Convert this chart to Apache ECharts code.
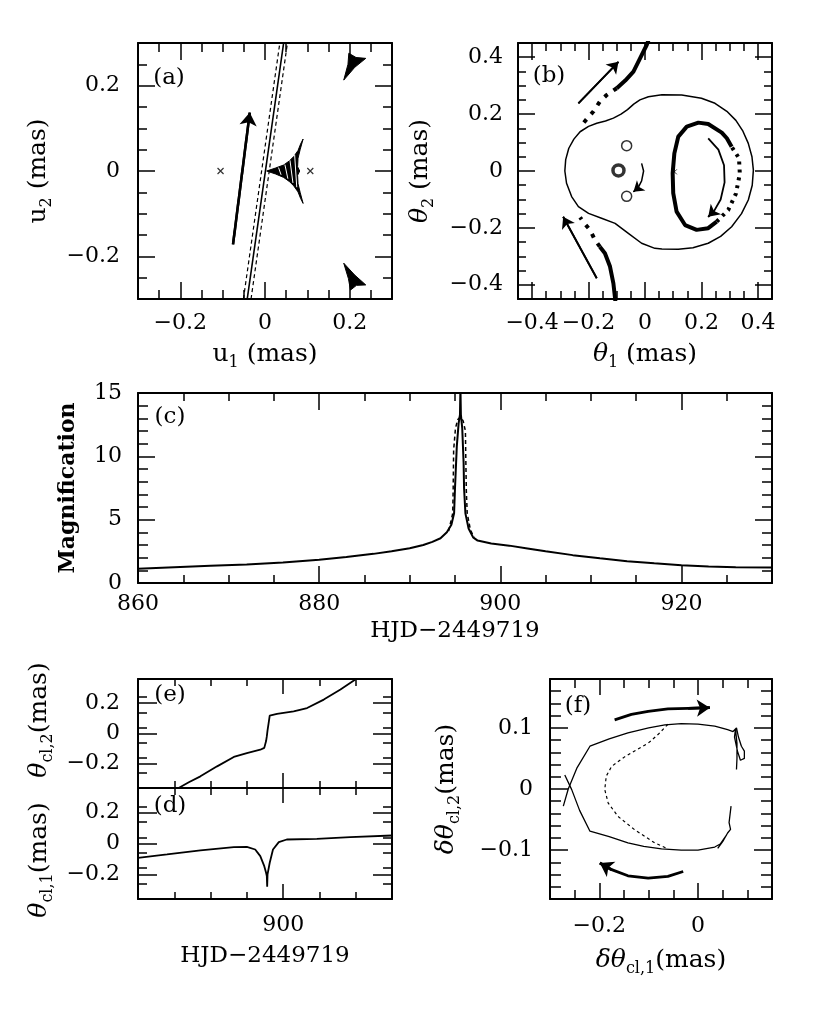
<!DOCTYPE html>
<html><head><meta charset="utf-8">
<script src="https://cdn.jsdelivr.net/npm/echarts@6/dist/echarts.min.js"></script>
<style>html,body{margin:0;padding:0;background:#fff}#c{width:830px;height:1013px}</style>
</head><body><div id="c"></div>
<script>
// ===================== DATA =====================
// ---- panel (a): source plane ----
const aMajorTicks = [-0.2, 0, 0.2];
const aLabels = [-0.2, 0, 0.2];
const aLenses = [[-0.105, 0], [0.107, 0]];
const aCausticCentral = [[0.004,0],[0.025,0.007],[0.044,0.014],[0.058,0.024],[0.068,0.034],[0.078,0.048],[0.084,0.063],[0.09,0.075],[0.083,0.05],[0.078,0.03],[0.077,0.01],[0.082,0],[0.077,-0.01],[0.078,-0.03],[0.083,-0.05],[0.09,-0.076],[0.084,-0.064],[0.078,-0.049],[0.068,-0.035],[0.058,-0.025],[0.044,-0.015],[0.025,-0.007],[0.004,0]];
const aCausticTop = [[0.198,0.276],[0.215,0.266],[0.238,0.264],[0.212,0.243],[0.186,0.213],[0.196,0.25],[0.198,0.276]];
const aCausticBottom = [[0.202,-0.279],[0.216,-0.268],[0.238,-0.267],[0.212,-0.244],[0.186,-0.216],[0.197,-0.252],[0.202,-0.279]];
const aHatch1 = [[0.032,0.008],[0.038,-0.009]];
const aHatch2 = [[0.047,0.015],[0.054,-0.018]];
const aHatch3 = [[0.059,0.025],[0.066,-0.028]];
const aHatch4 = [[0.07,0.038],[0.075,-0.038]];
const aTrack = [[-0.042,-0.3],[0.044,0.3]];
const aTrackEdgeL = [[-0.051,-0.3],[0.035,0.3]];
const aTrackEdgeR = [[-0.033,-0.3],[0.053,0.3]];
const aArrow = [[-0.0755,-0.172],[-0.036,0.137]];

// ---- panel (b): image plane ----
const bMajorTicks = [-0.4, -0.2, 0, 0.2, 0.4];
const bLabels = [-0.4, -0.2, 0, 0.2, 0.4];
const bCritical = [[-0.284,0.0],[-0.281,0.04],[-0.27,0.08],[-0.252,0.112],[-0.23,0.138],[-0.2,0.157],[-0.171,0.168],[-0.14,0.176],[-0.112,0.186],[-0.085,0.2],[-0.062,0.216],[-0.04,0.235],[-0.018,0.25],[0.012,0.261],[0.06,0.268],[0.13,0.267],[0.2,0.256],[0.248,0.238],[0.29,0.21],[0.322,0.178],[0.347,0.14],[0.366,0.097],[0.379,0.05],[0.384,0.003],[0.38,-0.05],[0.366,-0.102],[0.342,-0.15],[0.307,-0.196],[0.268,-0.23],[0.224,-0.254],[0.17,-0.27],[0.118,-0.275],[0.06,-0.274],[0.035,-0.272],[-0.012,-0.254],[-0.059,-0.219],[-0.106,-0.184],[-0.154,-0.166],[-0.2,-0.149],[-0.236,-0.125],[-0.26,-0.09],[-0.278,-0.043],[-0.284,0.0]];
const bLensCircles = [[-0.065,0.089],[-0.065,-0.089]];
const bCentralImage = [[-0.094,0.002]];
const bLensMark = [[0.104,-0.003]];
const bLoopSolid = [[0.307,0.085],[0.29,0.115],[0.272,0.135],[0.224,0.165],[0.189,0.17],[0.148,0.156],[0.118,0.121],[0.104,0.062],[0.098,-0.008],[0.1,-0.078],[0.112,-0.143],[0.142,-0.19],[0.183,-0.207],[0.224,-0.201],[0.254,-0.178]];
const bLoopDotted = [[0.254,-0.178],[0.295,-0.137],[0.322,-0.08],[0.336,-0.01],[0.333,0.045],[0.307,0.085]];
const bUpperSolid = [[0.016,0.47],[0.006,0.443],[-0.018,0.395],[-0.041,0.349],[-0.07,0.318],[-0.1,0.291]];
const bUpperDotted = [[-0.1,0.291],[-0.136,0.267],[-0.16,0.244],[-0.183,0.209],[-0.219,0.168]];
const bLowerSolid = [[-0.104,-0.47],[-0.106,-0.448],[-0.112,-0.395],[-0.124,-0.336],[-0.142,-0.289],[-0.16,-0.266]];
const bLowerDotted = [[-0.16,-0.266],[-0.177,-0.243],[-0.195,-0.207],[-0.213,-0.186],[-0.23,-0.163]];
const bArrowUpper = [[-0.236,0.238],[-0.094,0.384]];
const bArrowLower = [[-0.171,-0.377],[-0.29,-0.161]];
const bArrowCenter = [[-0.012,0.027],[-0.005,0.0],[-0.012,-0.035],[-0.025,-0.06],[-0.041,-0.073]];
const bArrowLoop = [[0.224,0.115],[0.26,0.075],[0.28,0.02],[0.282,-0.04],[0.268,-0.1],[0.245,-0.14],[0.224,-0.161]];

// ---- panel (c): light curve ----
const cXMajor = [880, 900, 920];
const cXLabels = [860, 880, 900, 920];
const cYMajor = [5, 10];
const cYLabels = [0, 5, 10, 15];
const cSolid = [[860,1.12],[864,1.25],[868,1.36],[872,1.47],[876,1.62],[880,1.84],[883,2.05],[886,2.3],[888,2.5],[890,2.75],[891.5,3.0],[892.5,3.25],[893.4,3.53],[894.1,4.0],[894.6,4.6],[894.9,5.5],[895.0,7.5],[895.2,10.8],[895.4,12.6],[895.55,13.3],[895.6,15.5],[895.65,13.3],[895.8,12.2],[895.95,9.5],[896.0,7.5],[896.15,5.5],[896.5,4.3],[897,3.6],[897.5,3.35],[899,3.12],[901,2.95],[903,2.73],[905,2.5],[908,2.2],[911,1.95],[914,1.72],[917,1.55],[920,1.4],[923,1.3],[926,1.25],[930,1.22]];
const cDashed = [[894.3,4.1],[894.75,5.5],[894.8,7.5],[894.85,10.5],[895.05,12.2],[895.3,12.9],[895.6,13.1],[895.9,12.8],[896.15,12.0],[896.2,9.5],[896.25,7.3],[896.35,5.5],[896.7,4.2],[897.1,3.6]];

// ---- panels (e) and (d): centroid shift components ----
const edXMajor = [900];
const edXLabels = [900];
const edYMajor = [-0.2, 0, 0.2];
const edYLabels = [-0.2, 0, 0.2];
const eTheta2 = [[869,-0.39],[871.2,-0.36],[874,-0.322],[877.2,-0.283],[881.8,-0.217],[886.4,-0.155],[890,-0.129],[893.7,-0.107],[894.8,-0.095],[895.1,-0.085],[895.3,-0.05],[895.5,-0.019],[895.7,0.02],[896,0.069],[896.3,0.118],[898.3,0.129],[902.9,0.146],[906.6,0.168],[911.2,0.224],[915.8,0.29],[919.9,0.356],[921,0.375]];
const dTheta1 = [[860,-0.093],[868,-0.071],[877.2,-0.045],[886.4,-0.024],[890,-0.022],[892.3,-0.039],[893.7,-0.082],[894.8,-0.147],[895.3,-0.19],[895.5,-0.212],[895.6,-0.28],[895.7,-0.2],[896.3,-0.125],[897.2,-0.039],[898.8,0.009],[901,0.026],[909.3,0.03],[918.5,0.041],[930,0.052]];

// ---- panel (f): centroid trajectory ----
const fXMajor = [-0.2, 0];
const fXLabels = [-0.2, 0];
const fYMajor = [-0.1, 0, 0.1];
const fYLabels = [-0.1, 0, 0.1];
const fUpperBranch = [[-0.273,-0.028],[-0.263,0.0],[-0.245,0.035],[-0.219,0.07],[-0.18,0.082],[-0.142,0.092],[-0.1,0.1],[-0.067,0.105],[-0.034,0.107],[0.0,0.106],[0.034,0.103],[0.06,0.097],[0.071,0.094],[0.078,0.1],[0.082,0.085],[0.088,0.07],[0.094,0.062],[0.094,0.05],[0.086,0.047],[0.08,0.062],[0.074,0.085],[0.076,0.098],[0.079,0.075],[0.079,0.05],[0.078,0.032]];
const fLowerBranch = [[0.067,-0.028],[0.063,-0.055],[0.066,-0.066],[0.06,-0.072],[0.05,-0.086],[0.04,-0.097],[0.046,-0.09],[0.058,-0.075],[0.045,-0.09],[0.034,-0.095],[0.0,-0.1],[-0.034,-0.1],[-0.074,-0.098],[-0.11,-0.094],[-0.142,-0.088],[-0.18,-0.078],[-0.219,-0.069],[-0.24,-0.035],[-0.256,-0.001],[-0.27,0.023]];
const fDashed = [[-0.061,0.106],[-0.08,0.09],[-0.101,0.075],[-0.125,0.064],[-0.148,0.053],[-0.175,0.037],[-0.186,0.021],[-0.189,-0.001],[-0.182,-0.023],[-0.162,-0.045],[-0.128,-0.067],[-0.088,-0.088],[-0.061,-0.098]];
const fArrowTop = [[-0.169,0.113],[-0.135,0.122],[-0.101,0.127],[-0.061,0.131],[-0.02,0.132],[0.024,0.133]];
const fArrowBottom = [[-0.03,-0.135],[-0.061,-0.143],[-0.101,-0.146],[-0.142,-0.142],[-0.175,-0.132],[-0.199,-0.121]];

// ===================== BUILD =====================
const FONT = 'DejaVu Serif';
const BLACK = '#000';
const TICK_FS = 22;
const NAME_FS = 25;
function fmt(v){ let s = String(Math.round(v*1000)/1000); if (s === '-0') s = '0'; return s.replace('-', '\u2212'); }
function ticks(min, max, step){ const out=[]; const n=Math.round((max-min)/step); for(let i=1;i<n;i++){ out.push(Math.round((min+i*step)*1e6)/1e6); } return out; }
function nameStyle(size, bold){
  const sub = Math.round(size*0.62);
  return {fontFamily:FONT, fontSize:size, color:BLACK, lineHeight:size+8,
    rich:{
      t:{fontFamily:FONT,fontSize:size,color:BLACK,lineHeight:size+8,verticalAlign:'middle',fontWeight:bold?'bold':'normal'},
      i:{fontFamily:FONT,fontSize:size,color:BLACK,lineHeight:size+8,verticalAlign:'middle',fontStyle:'italic'},
      s:{fontFamily:FONT,fontSize:sub,color:BLACK,lineHeight:sub,verticalAlign:'bottom'}
    }};
}
const xAxes=[], yAxes=[], X=[], Y=[];
function buildAxes(gi, kind, s){
  const arr = kind==='x' ? xAxes : yAxes;
  const pos = kind==='x' ? ['bottom','top'] : ['left','right'];
  const first = arr.length;
  pos.forEach((p,k)=>{
    const base = {type:'value', gridIndex:gi, position:p, min:s.min, max:s.max, splitLine:{show:false}, axisPointer:{show:false}, silent:true};
    arr.push(Object.assign({}, base, {
      axisLine:{show:true, onZero:false, lineStyle:{color:BLACK, width:2}},
      axisTick:{show:true, inside:true, length:s.minorLen, customValues:ticks(s.min,s.max,s.step), lineStyle:{color:BLACK, width:1.5}},
      axisLabel:(k===0 && s.labels.length) ? {show:true, customValues:s.labels, formatter:fmt, margin:s.labelMargin, color:BLACK, fontFamily:FONT, fontSize:TICK_FS} : {show:false},
      name:k===0 ? (s.name||'') : '', nameLocation:'middle', nameGap:s.nameGap||30, nameTextStyle:nameStyle(s.nameSize||NAME_FS, s.bold)
    }));
    arr.push(Object.assign({}, base, {
      axisLine:{show:false, onZero:false},
      axisTick:{show:true, inside:true, length:s.majorLen, customValues:s.major, lineStyle:{color:BLACK, width:1.5}},
      axisLabel:{show:false}
    }));
  });
  return first;
}
const grids = [
  {left:138, top:43, width:254, height:256},
  {left:518, top:43, width:254, height:256},
  {left:138, top:393, width:634, height:190},
  {left:138, top:679, width:254, height:109},
  {left:138, top:788, width:254, height:111},
  {left:550, top:679, width:222, height:220}
].map(g=>Object.assign({outerBoundsMode:'none', containLabel:false}, g));

const panels = [
  {x:{min:-0.3,max:0.3,step:0.05,major:aMajorTicks,labels:aLabels,labelMargin:13,minorLen:9,majorLen:17,name:'{t|u}{s|1}{t| (mas)}',nameGap:39},
   y:{min:-0.3,max:0.3,step:0.05,major:aMajorTicks,labels:aLabels,labelMargin:18,minorLen:9,majorLen:17,name:'{t|u}{s|2}{t| (mas)}',nameGap:83}},
  {x:{min:-0.45,max:0.45,step:0.05,major:bMajorTicks,labels:bLabels,labelMargin:13,minorLen:8,majorLen:17,name:'{i|θ}{s|1}{t| (mas)}',nameGap:39},
   y:{min:-0.45,max:0.45,step:0.05,major:bMajorTicks,labels:bLabels,labelMargin:15,minorLen:8,majorLen:17,name:'{i|θ}{s|2}{t| (mas)}',nameGap:81}},
  {x:{min:860,max:930,step:5,major:cXMajor,labels:cXLabels,labelMargin:10,minorLen:8,majorLen:17,name:'{t|HJD−2449719}',nameGap:31,nameSize:23},
   y:{min:0,max:15,step:1,major:cYMajor,labels:cYLabels,labelMargin:16,minorLen:10,majorLen:17,name:'{t|Magnification}',nameGap:54,nameSize:22,bold:true}},
  {x:{min:860,max:930,step:10,major:edXMajor,labels:[],minorLen:7,majorLen:15},
   y:{min:-0.36,max:0.36,step:0.1,major:edYMajor,labels:edYLabels,labelMargin:18,minorLen:9,majorLen:19}},
  {x:{min:860,max:930,step:10,major:edXMajor,labels:edXLabels,labelMargin:15,minorLen:7,majorLen:15,name:'{t|HJD−2449719}',nameGap:42,nameSize:23},
   y:{min:-0.36,max:0.36,step:0.1,major:edYMajor,labels:edYLabels,labelMargin:18,minorLen:9,majorLen:19}},
  {x:{min:-0.3,max:0.15,step:0.05,major:fXMajor,labels:fXLabels,labelMargin:16,minorLen:9,majorLen:16,name:'{i|δθ}{s|cl,1}{t|(mas)}',nameGap:45},
   y:{min:-0.18,max:0.18,step:0.02,major:fYMajor,labels:fYLabels,labelMargin:17,minorLen:11,majorLen:18,name:'{i|δθ}{s|cl,2}{t|(mas)}',nameGap:87}}
];
panels.forEach((p,gi)=>{ X[gi]=buildAxes(gi,'x',p.x); Y[gi]=buildAxes(gi,'y',p.y); });

function L(gi, data, ls, extra){
  return Object.assign({type:'line', xAxisIndex:X[gi], yAxisIndex:Y[gi], data:data, symbol:'none', showSymbol:false, silent:true, animation:false, clip:true, z:3,
    lineStyle:Object.assign({color:BLACK, width:1.5}, ls||{})}, extra||{});
}
function A(gi, pts, width, head){
  const n = pts.length;
  return L(gi, pts, {width:width}, {markLine:{silent:true, animation:false, symbol:['none','arrow'], symbolSize:head,
    label:{show:false}, emphasis:{disabled:true}, lineStyle:{color:BLACK, width:width, type:'solid'},
    data:[[{coord:pts[n-2]},{coord:pts[n-1]}]]}});
}
function P(gi, poly, fill){
  return {type:'custom', xAxisIndex:X[gi], yAxisIndex:Y[gi], silent:true, animation:false, z:3, clip:true,
    data:[poly[0]],
    renderItem:(params, api)=>({type:'polygon', shape:{points:poly.map(pt=>api.coord(pt))}, style:{fill:fill, stroke:BLACK, lineWidth:1}})};
}
function S(gi, data, symbol, size, style){
  return {type:'scatter', xAxisIndex:X[gi], yAxisIndex:Y[gi], data:data, symbol:symbol, symbolSize:size, silent:true, animation:false, z:4, itemStyle:style};
}
const CROSS = 'path://M0,0L10,10M10,0L0,10';
const dotted = {width:4, type:[4,7]};

const series = [
  // (a)
  L(0, aTrackEdgeL, {width:1.2, type:[4,3]}),
  L(0, aTrackEdgeR, {width:1.2, type:[4,3]}),
  L(0, aTrack, {width:1.6}),
  P(0, aCausticCentral, BLACK),
  L(0, aHatch1, {color:'#fff', width:1}), L(0, aHatch2, {color:'#fff', width:1}),
  L(0, aHatch3, {color:'#fff', width:1}), L(0, aHatch4, {color:'#fff', width:1}),
  P(0, aCausticTop, BLACK),
  P(0, aCausticBottom, BLACK),
  S(0, aLenses, CROSS, 6, {color:'none', borderColor:BLACK, borderWidth:1.2}),
  A(0, aArrow, 2.5, 13),
  // (b)
  L(1, bCritical, {width:1.5}),
  L(1, bLoopSolid, {width:4}),
  L(1, bLoopDotted, {width:4, type:[3,5]}),
  L(1, bUpperSolid, {width:4}),
  L(1, bUpperDotted, dotted),
  L(1, bLowerSolid, {width:4}),
  L(1, bLowerDotted, dotted),
  A(1, bArrowUpper, 1.8, 11),
  A(1, bArrowLower, 1.8, 11),
  A(1, bArrowCenter, 1.5, 10),
  A(1, bArrowLoop, 1.8, 11),
  S(1, bLensCircles, 'circle', 10, {color:'#fff', borderColor:BLACK, borderWidth:1.5}),
  S(1, bCentralImage, 'circle', 11, {color:'#fff', borderColor:BLACK, borderWidth:3.5}),
  S(1, bLensMark, CROSS, 5, {color:'none', borderColor:BLACK, borderWidth:1}),
  // (c)
  L(2, cDashed, {width:1.5, type:[4,3]}),
  L(2, cSolid, {width:2}),
  // (e), (d)
  L(3, eTheta2, {width:1.8}),
  L(4, dTheta1, {width:1.8}),
  // (f)
  L(5, fUpperBranch, {width:1.3}),
  L(5, fLowerBranch, {width:1.3}),
  L(5, fDashed, {width:1.2, type:[3,3]}),
  A(5, fArrowTop, 2.8, 13),
  A(5, fArrowBottom, 2.8, 13)
];

const gRich = {
  t:{fontFamily:FONT, fontSize:NAME_FS, fill:BLACK, lineHeight:33, verticalAlign:'middle'},
  i:{fontFamily:FONT, fontSize:NAME_FS, fill:BLACK, lineHeight:33, verticalAlign:'middle', fontStyle:'italic'},
  s:{fontFamily:FONT, fontSize:16, fill:BLACK, lineHeight:16, verticalAlign:'bottom'}
};
const panelTags = [['(a)',169,78],['(b)',549,76],['(c)',170,417],['(e)',170,695],['(d)',170,806],['(f)',578,706]];
const graphic = panelTags.map(t=>({type:'text', x:t[1], y:t[2], z:10, silent:true,
  style:{text:t[0], fontFamily:FONT, fontSize:23, fill:BLACK, align:'center', verticalAlign:'middle'}}));
graphic.push({type:'text', x:39, y:720, rotation:Math.PI/2, z:10, silent:true,
  style:{text:'{i|θ}{s|cl,2}{t|(mas)}', rich:gRich, fontFamily:FONT, fontSize:NAME_FS, fill:BLACK, align:'center', verticalAlign:'middle'}});
graphic.push({type:'text', x:39, y:860, rotation:Math.PI/2, z:10, silent:true,
  style:{text:'{i|θ}{s|cl,1}{t|(mas)}', rich:gRich, fontFamily:FONT, fontSize:NAME_FS, fill:BLACK, align:'center', verticalAlign:'middle'}});

const chart = echarts.init(document.getElementById('c'), null, {renderer:'canvas'});
chart.setOption({
  backgroundColor:'#fff',
  animation:false,
  textStyle:{fontFamily:FONT},
  grid:grids,
  xAxis:xAxes,
  yAxis:yAxes,
  series:series,
  graphic:graphic
});
</script></body></html>
